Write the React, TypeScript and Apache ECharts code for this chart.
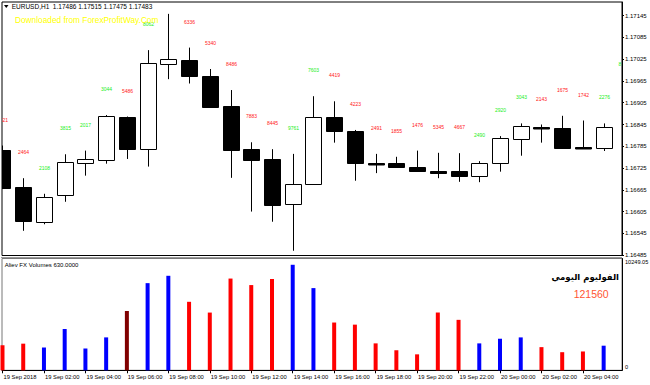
import React, { useEffect, useRef } from "react";
import * as echarts from "echarts";

// ---- data ----
const opens = [1.16775, 1.16673, 1.16577, 1.1665, 1.16738, 1.16748, 1.16866, 1.16777, 1.17011, 1.17024, 1.1698, 1.16897, 1.16778, 1.16749, 1.16625, 1.1668, 1.16865, 1.16828, 1.16739, 1.16738, 1.16728, 1.16717, 1.16716, 1.16704, 1.16738, 1.16806, 1.16838, 1.16835, 1.16783, 1.16781];
const highs = [1.16787, 1.16697, 1.16654, 1.16763, 1.16773, 1.16871, 1.16867, 1.1705, 1.1715, 1.17057, 1.16998, 1.1694, 1.16796, 1.16777, 1.16764, 1.16923, 1.16909, 1.1683, 1.16764, 1.16756, 1.16773, 1.16767, 1.16766, 1.16744, 1.16813, 1.16848, 1.16845, 1.16869, 1.16856, 1.16848];
const lows = [1.16667, 1.16552, 1.1657, 1.16632, 1.16704, 1.16737, 1.1675, 1.16729, 1.1697, 1.16958, 1.16893, 1.16698, 1.16605, 1.16577, 1.16497, 1.16679, 1.16795, 1.1669, 1.16711, 1.16726, 1.16715, 1.16697, 1.16687, 1.16686, 1.16715, 1.16759, 1.16795, 1.1678, 1.16779, 1.16772];
const closes = [1.16669, 1.1658, 1.16646, 1.16741, 1.1675, 1.16869, 1.16778, 1.17014, 1.17025, 1.1698, 1.16894, 1.16776, 1.16748, 1.16624, 1.16681, 1.16865, 1.16828, 1.1674, 1.16736, 1.16729, 1.16717, 1.16712, 1.16704, 1.16738, 1.16807, 1.1684, 1.16834, 1.16781, 1.1678, 1.16837];
const volumes = [2321, 2464, 2108, 3815, 2017, 3044, 5486, 8062, 8742, 6336, 5340, 8486, 7883, 8445, 9761, 7603, 4419, 4223, 2491, 1855, 1476, 5345, 4667, 2490, 2920, 3043, 2143, 1675, 1742, 2276];
const volumeColors = ["#ff0000", "#ff0000", "#0000ff", "#0000ff", "#0000ff", "#0000ff", "#800000", "#0000ff", "#0000ff", "#ff0000", "#ff0000", "#ff0000", "#ff0000", "#ff0000", "#0000ff", "#0000ff", "#ff0000", "#ff0000", "#ff0000", "#ff0000", "#ff0000", "#ff0000", "#ff0000", "#0000ff", "#0000ff", "#0000ff", "#ff0000", "#ff0000", "#ff0000", "#0000ff"];
const priceTicks = [1.16485, 1.16545, 1.16605, 1.16665, 1.16725, 1.16785, 1.16845, 1.16905, 1.16965, 1.17025, 1.17085, 1.17145];
const timeTickIndex = [0, 2, 4, 6, 8, 10, 12, 14, 16, 18, 20, 22, 24, 26, 28];
const timeTickLabels = ["19 Sep 2018", "19 Sep 02:00", "19 Sep 04:00", "19 Sep 06:00", "19 Sep 08:00", "19 Sep 10:00", "19 Sep 12:00", "19 Sep 14:00", "19 Sep 16:00", "19 Sep 18:00", "19 Sep 20:00", "19 Sep 22:00", "20 Sep 00:00", "20 Sep 02:00", "20 Sep 04:00"];
const volumeMax = 10249.05;
const dailyVolume = "121560";
const headerText = "EURUSD,H1  1.17486 1.17515 1.17475 1.17483";
const indicatorText = "Aliev FX Volumes 630.0000";
const watermarkText = "Downloaded from ForexProfitWay.Com";
const dailyTitle = "الفوليوم اليومي";

const FONT = "'Liberation Sans', Arial, sans-serif";
const X_MIN = -0.024;
const X_MAX = 29.885;

export default function App() {
  const ref = useRef<HTMLDivElement>(null);
  useEffect(() => {
    if (!ref.current) return;
    const chart = echarts.init(ref.current, null, { renderer: "svg" });
    const candleData = opens.map((o, i) => [i, o, highs[i], lows[i], closes[i]]);
    const option: any = {
      animation: false,
      backgroundColor: "#ffffff",
      grid: [
        { left: 2, right: 28, top: 2, bottom: 129.5, show: true, borderColor: "#000", borderWidth: 1, backgroundColor: "#fff", outerBoundsMode: "none", containLabel: false },
        { left: 2, right: 28, top: 258.5, bottom: 14.7, show: true, borderColor: "#777", borderWidth: 1, backgroundColor: "#fff", outerBoundsMode: "none", containLabel: false },
      ],
      xAxis: [
        { type: "value", gridIndex: 0, min: X_MIN, max: X_MAX, show: false },
        {
          type: "value", gridIndex: 1, min: X_MIN, max: X_MAX, position: "bottom",
          axisLine: { show: true, lineStyle: { color: "#000", width: 1 } },
          axisTick: { show: true, customValues: timeTickIndex, length: 3, lineStyle: { color: "#000" } },
          axisLabel: {
            show: true, customValues: timeTickIndex, align: "left", margin: 3.5,
            fontSize: 5.8, fontFamily: FONT, color: "#000", padding: [0, 0, 0, 1],
            formatter: (v: number) => timeTickLabels[timeTickIndex.indexOf(Math.round(v))] ?? "",
          },
          splitLine: { show: false },
        },
      ],
      yAxis: [
        {
          type: "value", gridIndex: 0, position: "right", min: 1.164839, max: 1.171827,
          axisLine: { show: true, onZero: false, lineStyle: { color: "#000", width: 1 } },
          axisTick: { show: true, inside: false, length: 2, customValues: priceTicks, lineStyle: { color: "#000" } },
          axisLabel: { show: true, customValues: priceTicks, margin: 3, fontSize: 6, fontFamily: FONT, color: "#000", formatter: (v: number) => v.toFixed(5) },
          splitLine: { show: false },
        },
        {
          type: "value", gridIndex: 1, position: "right", min: 0, max: volumeMax * 1.009,
          axisLine: { show: true, onZero: false, lineStyle: { color: "#000", width: 1 } },
          axisTick: { show: false },
          axisLabel: { show: true, customValues: [volumeMax], margin: 3, verticalAlign: "top", fontSize: 5.6, fontFamily: FONT, color: "#000", formatter: (v: number) => v.toFixed(2) },
          splitLine: { show: false },
        },
        {
          type: "value", gridIndex: 1, position: "right", min: 0, max: volumeMax * 1.009,
          axisLine: { show: false },
          axisTick: { show: false },
          axisLabel: { show: true, customValues: [0], margin: 3, verticalAlign: "bottom", fontSize: 5.6, fontFamily: FONT, color: "#000", formatter: () => "0" },
          splitLine: { show: false },
        },
      ],
      series: [
        {
          type: "custom",
          xAxisIndex: 0,
          yAxisIndex: 0,
          clip: true,
          data: candleData,
          encode: { x: 0, y: [1, 2, 3, 4] },
          renderItem: (params: any, api: any) => {
            const i = api.value(0);
            const o = api.value(1), h = api.value(2), l = api.value(3), c = api.value(4);
            const pO = api.coord([i, o]);
            const pH = api.coord([i, h]);
            const pL = api.coord([i, l]);
            const pC = api.coord([i, c]);
            const cx = Math.round(pO[0]);
            const bull = c > o;
            let yTop = Math.round(Math.min(pO[1], pC[1])) + 0.5;
            let yBot = Math.round(Math.max(pO[1], pC[1])) + 0.5;
            if (yBot - yTop < 1.5) yBot = yTop + 1.5;
            const idx = params.dataIndex;
            const children: any[] = [
              { type: "line", shape: { x1: cx + 0.5, y1: pH[1], x2: cx + 0.5, y2: pL[1] }, style: { stroke: "#000", lineWidth: 1 } },
              { type: "rect", shape: { x: cx - 7.5, y: yTop, width: 16, height: yBot - yTop }, style: { fill: bull ? "#fff" : "#000", stroke: "#000", lineWidth: 1 } },
            ];
            const ly = pH[1] - 26;
            if (ly > 5) {
              children.push({
                type: "text",
                style: {
                  text: String(volumes[idx]), x: cx + 0.5, y: ly,
                  fill: bull ? "#22ee22" : "#ff1a1a", fontSize: 5, fontFamily: FONT,
                  align: "center", verticalAlign: "middle",
                },
              });
            }
            return { type: "group", children };
          },
          z: 2,
        },
        {
          type: "bar",
          xAxisIndex: 1,
          yAxisIndex: 1,
          barWidth: 4,
          data: volumes.map((v, i) => ({ value: [i, v], itemStyle: { color: volumeColors[i] } })),
          z: 2,
        },
      ],
      graphic: [
        { type: "polygon", shape: { points: [[4, 5], [8.5, 5], [6.25, 8]] }, style: { fill: "#000" }, z: 10 },
        { type: "text", x: 11.7, y: 6.5, style: { text: headerText, fill: "#000", fontSize: 6.5, fontFamily: FONT, align: "left", verticalAlign: "middle" }, z: 10 },
        { type: "text", x: 15, y: 19.5, style: { text: watermarkText, fill: "#ffff00", fontSize: 8.3, fontFamily: FONT, align: "left", verticalAlign: "middle" }, z: 10 },
        { type: "text", x: 618.5, y: 64, style: { text: "8", fill: "#22ee22", fontSize: 5, fontFamily: FONT, align: "left", verticalAlign: "middle" }, z: 10 },
        { type: "line", shape: { x1: 1, y1: 257.5, x2: 622, y2: 257.5 }, style: { stroke: "#999", lineWidth: 1 }, z: 10 },
        { type: "text", x: 4.7, y: 265, style: { text: indicatorText, fill: "#000", fontSize: 6, fontFamily: FONT, align: "left", verticalAlign: "middle" }, z: 10 },
        { type: "text", x: 619, y: 276.7, style: { text: dailyTitle, fill: "#000", fontSize: 8.5, fontWeight: "bold", fontFamily: "'DejaVu Sans', sans-serif", align: "right", verticalAlign: "middle" }, z: 10 },
        { type: "text", x: 608.7, y: 294.3, style: { text: dailyVolume, fill: "#ff5533", fontSize: 10.5, fontFamily: FONT, align: "right", verticalAlign: "middle" }, z: 10 },
      ],
    };
    chart.setOption(option);
    return () => chart.dispose();
  }, []);
  return <div ref={ref} style={{ position: "absolute", left: 0, top: 0, width: 650, height: 385 }} />;
}
